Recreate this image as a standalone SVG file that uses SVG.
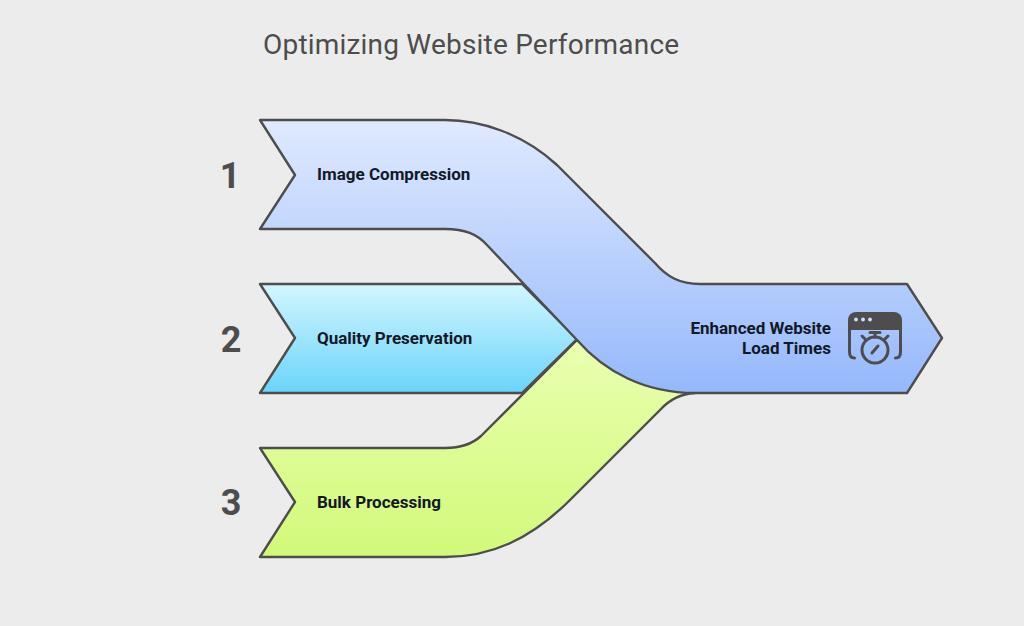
<svg xmlns="http://www.w3.org/2000/svg" width="1024" height="626" viewBox="0 0 1024 626">
<style>
.band{stroke:#4d4d4d;stroke-width:2.4;stroke-linejoin:round}
.lab{font-family:Roboto,"Liberation Sans",sans-serif;font-weight:700;font-size:17px;fill:#111827}
.num{font-family:Roboto,"Liberation Sans",sans-serif;font-weight:700;font-size:36px;fill:#4d4d4d;text-anchor:middle}
.ic{fill:none;stroke:#4d4d4d;stroke-width:3;stroke-linecap:round}
</style>
<defs>
<linearGradient id="gb" x1="0" y1="0" x2="0" y2="1"><stop offset="0" stop-color="#e0eaff"/><stop offset="1" stop-color="#95b8fb"/></linearGradient>
<linearGradient id="gc" x1="0" y1="0" x2="0" y2="1"><stop offset="0" stop-color="#d2f6ff"/><stop offset="1" stop-color="#6ad4fa"/></linearGradient>
<linearGradient id="gg" x1="0" y1="0" x2="0" y2="1"><stop offset="0" stop-color="#eaffb0"/><stop offset="1" stop-color="#d2f97a"/></linearGradient>
</defs>
<rect width="1024" height="626" fill="#ececec"/>
<text id="title" x="263" y="54" font-family="Roboto,'Liberation Sans',sans-serif" font-size="28" letter-spacing="0.2" fill="#4d4d4d">Optimizing Website Performance</text>
<g id="connectors"></g>
<g id="node-3">
<path class="band" fill="url(#gg)" d="M260 448H445C458 448 470 446 481 436L577 340L695 393C680 394 669 400 660 410L570 500C530 540 490 557 445 557H260L295 502Z"/>
<text class="num" x="231" y="515">3</text>
<text class="lab" x="317" y="508">Bulk Processing</text>
</g>
<g id="node-2">
<path class="band" fill="url(#gc)" d="M260 284H522L577 339L522 393H260L295 338Z"/>
<text class="num" x="231" y="352">2</text>
<text class="lab" x="317" y="344">Quality Preservation</text>
</g>
<g id="node-1">
<path class="band" fill="url(#gb)" d="M260 120H445C480 120 522 133 557 165L655 263C667 277 680 284 700 284H907L942 338L907 393H695C645 393 605 372 577 340L487 245C477 234 465 229 445 229H260L295 175Z"/>
<text class="num" x="230" y="188">1</text>
<text class="lab" x="317" y="180">Image Compression</text>
<text class="lab" x="831" y="334" text-anchor="end">Enhanced Website</text>
<text class="lab" x="831" y="354" text-anchor="end">Load Times</text>
<g id="icon">
<path fill="#4d4d4d" d="M848 320a8 8 0 0 1 8-8h38a8 8 0 0 1 8 8v10h-54z"/>
<circle cx="856" cy="319.500" r="1.900" fill="#cfdffc"/><circle cx="863" cy="319.500" r="1.900" fill="#cfdffc"/><circle cx="870" cy="319.500" r="1.900" fill="#cfdffc"/>
<path class="ic" d="M849.500 330V352q0 6 5 6M900.500 330V352q0 6-5 6"/>
<circle class="ic" cx="875" cy="350" r="13"/>
<path class="ic" d="M875 337V333M870 332.500H880M885 339l3-3M865 339l-3-3M872 353l6-7"/>
</g>
</g>
</svg>
